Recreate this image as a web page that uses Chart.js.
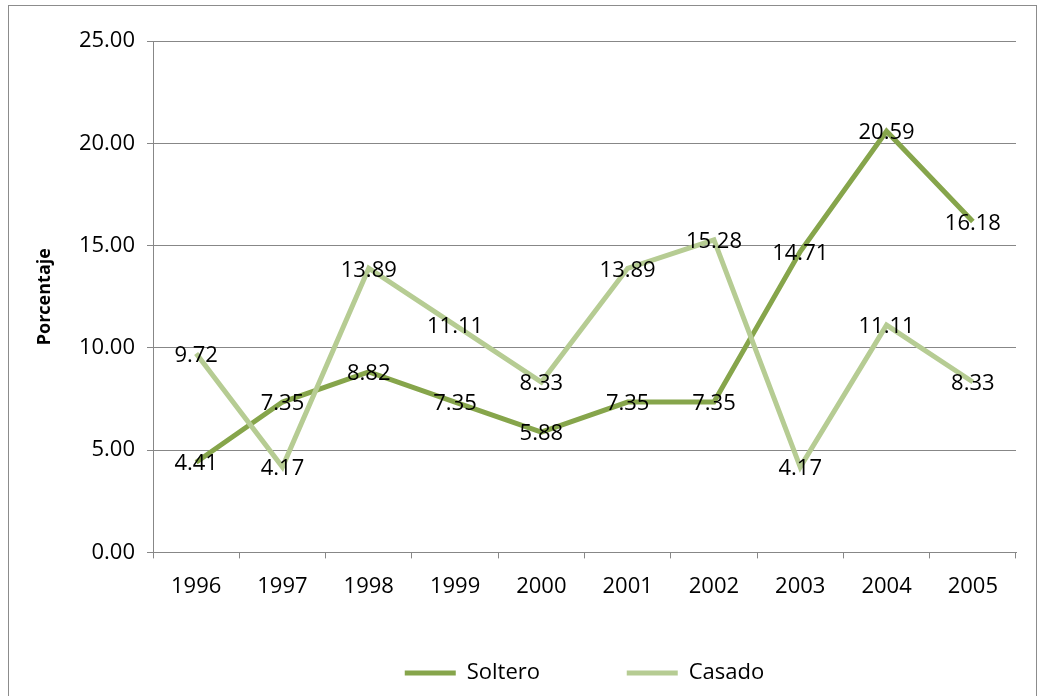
<!DOCTYPE html>
<html>
<head>
<meta charset="utf-8">
<script src="https://cdn.jsdelivr.net/npm/chart.js@4"></script>
<style>
  body { margin: 0; background: #fff; }
  canvas { display: block; }
</style>
</head>
<body>
<canvas id="myChart" width="1044" height="696"></canvas>
<script>
// data
const years = ['1996', '1997', '1998', '1999', '2000', '2001', '2002', '2003', '2004', '2005'];
const soltero = [4.41, 7.35, 8.82, 7.35, 5.88, 7.35, 7.35, 14.71, 20.59, 16.18];
const casado = [9.72, 4.17, 13.89, 11.11, 8.33, 13.89, 15.28, 4.17, 11.11, 8.33];
const yTicks = [0, 5, 10, 15, 20, 25];

const colSoltero = '#86a54b';
const colCasado = '#b6cc93';
const gridCol = '#878787';

Chart.defaults.font.family = "'Open Sans', sans-serif";
Chart.defaults.font.size = 22;
Chart.defaults.color = '#000';

// outer frame + white background
const frame = {
  id: 'frame',
  beforeDraw(chart) {
    const ctx = chart.ctx;
    ctx.save();
    ctx.fillStyle = '#fff';
    ctx.fillRect(0, 0, chart.width, chart.height);
    ctx.strokeStyle = '#8c8c8c';
    ctx.lineWidth = 1;
    ctx.strokeRect(8.5, 5.5, 1028, 720);
    ctx.restore();
  }
};

// value labels centred on each point
const valueLabels = {
  id: 'valueLabels',
  afterDatasetsDraw(chart) {
    const ctx = chart.ctx;
    ctx.save();
    ctx.font = "22px 'Open Sans', sans-serif";
    ctx.fillStyle = '#000';
    ctx.textAlign = 'center';
    ctx.textBaseline = 'middle';
    chart.data.datasets.forEach((ds, i) => {
      chart.getDatasetMeta(i).data.forEach((pt, j) => {
        ctx.fillText(ds.data[j].toFixed(2), pt.x, pt.y + 2);
      });
    });
    ctx.restore();
  }
};

const data = {
  labels: years,
  datasets: [{
    label: 'Soltero',
    data: soltero,
    borderColor: colSoltero,
    backgroundColor: colSoltero,
    borderWidth: 5,
    pointRadius: 0,
    tension: 0,
    order: 1
  }, {
    label: 'Casado',
    data: casado,
    borderColor: colCasado,
    backgroundColor: colCasado,
    borderWidth: 5,
    pointRadius: 0,
    tension: 0,
    order: 0
  }]
};

const config = {
  type: 'line',
  data: data,
  options: {
    responsive: false,
    animation: false,
    layout: { padding: { top: 41, right: 28, left: 0, bottom: 2 } },
    plugins: {
      tooltip: { enabled: false },
      legend: {
        position: 'bottom',
        fullSize: false,
        labels: {
          boxWidth: 51,
          boxHeight: 5,
          padding: 41,
          font: { size: 22 },
          sort: (a, b) => a.datasetIndex - b.datasetIndex,
          generateLabels(chart) {
            const items = Chart.defaults.plugins.legend.labels.generateLabels(chart);
            items.forEach(it => {
              it.fillStyle = it.strokeStyle;
              it.lineWidth = 0;
              // keep the wide gap between the two entries
              if (it.datasetIndex === 0) it.text = it.text + '        ';
            });
            return items;
          }
        }
      }
    },
    scales: {
      x: {
        offset: true,
        grid: { display: true, drawOnChartArea: false, offset: true, color: gridCol, tickLength: 6 },
        border: { color: gridCol },
        ticks: { padding: 15, maxRotation: 0 },
        afterFit(scale) { scale.height = 68.6; }
      },
      y: {
        min: 0,
        max: 25,
        afterBuildTicks(scale) { scale.ticks = yTicks.map(v => ({ value: v })); },
        ticks: { padding: 12, callback: v => Number(v).toFixed(2) },
        grid: { color: gridCol, tickLength: 6 },
        border: { color: gridCol },
        title: {
          display: true,
          text: 'Porcentaje',
          font: { size: 18, weight: 'bold' },
          padding: { top: 34, bottom: 0 }
        },
        afterFit(scale) { scale.width = 153; }
      }
    }
  },
  plugins: [frame, valueLabels]
};

const myChart = new Chart(document.getElementById('myChart'), config);
</script>
</body>
</html>
